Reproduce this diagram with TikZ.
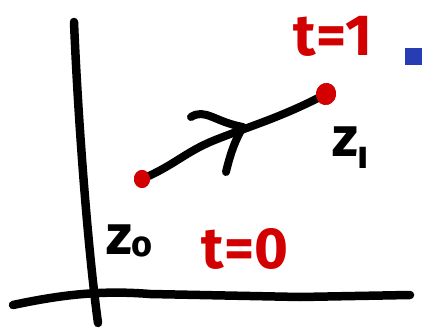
\documentclass[tikz,border=0pt]{standalone}
\usepackage{fontspec}
\setmainfont{Fira Sans}
\definecolor{inkred}{RGB}{210,0,0}
\definecolor{inkblue}{RGB}{40,60,180}
\tikzset{
  ink/.style={line width=8.5pt, line cap=round, line join=round, black},
  pen/.style={line width=8pt, line cap=round, line join=round, black},
  dot/.style={fill=inkred, draw=none, ellipse},
  redlbl/.style={text=inkred, font=\bfseries\fontsize{58}{58}\selectfont, inner sep=0pt},
  blklbl/.style={text=black, font=\bfseries\fontsize{56}{56}\selectfont, inner sep=0pt}
}
\usetikzlibrary{shapes.geometric}
\begin{document}
\begin{tikzpicture}[x=1pt,y=-1pt]
\useasboundingbox (0,0) rectangle (422,328);
% axes
\coordinate (vtop) at (74,22);
\coordinate (vbot) at (98,323);
\draw[ink] (vtop) .. controls (78,120) and (88,250) .. (vbot);
\coordinate (hl) at (13,305);
\coordinate (hr) at (410,295);
\draw[ink] (hl) .. controls (60,295) and (100,290) .. (150,294) -- (300,297) -- (hr);
% path
\node[dot, minimum width=16pt, minimum height=18pt] (z0) at (142,179) {};
\node[dot, minimum width=20pt, minimum height=22pt, rotate=-10] (z1) at (326,94) {};
\draw[pen] (z0.center) .. controls (175,165) and (185,152) .. (215,140) .. controls (250,126) and (280,118) .. (z1.center);
\node[dot, minimum width=16pt, minimum height=18pt] at (142,179) {};
\node[dot, minimum width=20pt, minimum height=22pt, rotate=-10] at (326,94) {};
% arrowhead
\coordinate (ha) at (191,117);
\coordinate (hb) at (243,127);
\coordinate (hc) at (226,172);
\draw[pen] (ha) .. controls (205,108) and (215,122) .. (hb) .. controls (235,140) and (230,155) .. (hc);
% labels
\node[redlbl] (t1) at (333,36) {t=1};
\node[redlbl] (t0) at (245,249) {t=0};
\node[blklbl, anchor=west] (zz1) at (332,148) {z\raisebox{-12pt}{\fontsize{40}{40}\selectfont ı}};
\node[blklbl, anchor=west] (zz0) at (106,241) {z\raisebox{-2pt}{\fontsize{36}{36}\selectfont o}};
% blue square
\fill[inkblue] (405,48) rectangle (422,65);
\end{tikzpicture}
\end{document}
